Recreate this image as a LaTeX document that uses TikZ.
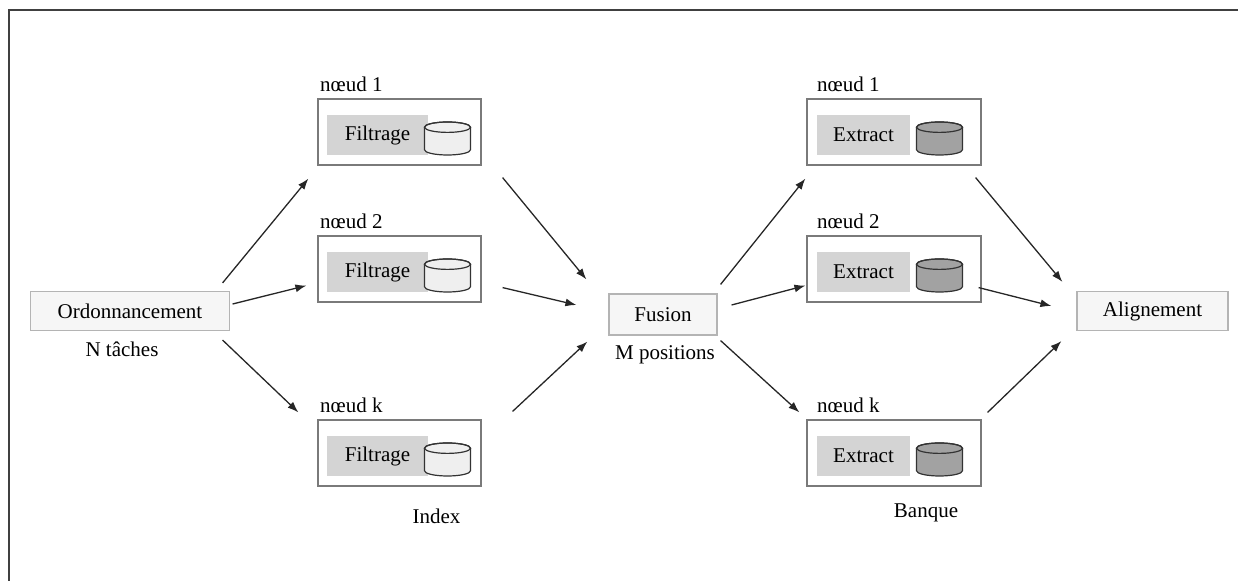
\documentclass[tikz,border=0pt]{standalone}
\usepackage{fontspec}
\setmainfont{Liberation Serif}
\usetikzlibrary{positioning}
\usetikzlibrary{calc}
\usetikzlibrary{arrows.meta}
\definecolor{cadre}{HTML}{B4B4B4}
\definecolor{fond}{HTML}{F6F6F6}
\definecolor{bloc}{HTML}{D4D4D4}
\definecolor{bord}{HTML}{7A7A7A}
\definecolor{disqueclair}{HTML}{EFEFEF}
\definecolor{disquefonce}{HTML}{A2A2A2}
\tikzset{every picture/.style={line width=0.7pt},
  etape/.style={draw=cadre, fill=fond, line width=0.6pt, minimum height=19.5pt, inner sep=0pt},
  noeud/.style={draw=bord, line width=0.6pt, minimum height=33pt, inner sep=0pt},
  tache/.style={fill=bloc, minimum width=50.5pt, minimum height=20pt, inner sep=0pt},
  pics/disque/.style={code={
    \filldraw [fill=#1, draw=black!80, line width=0.6pt] (-11.5pt,5.65pt) -- (-11.5pt,-5.65pt)
      arc [start angle=180, end angle=360, x radius=11.5pt, y radius=2.6pt] -- (11.5pt,5.65pt)
      arc [start angle=0, end angle=180, x radius=11.5pt, y radius=2.6pt] -- cycle;
    \draw [draw=black!80, line width=0.6pt] (0pt,5.65pt) ellipse [x radius=11.5pt, y radius=2.6pt];
  }},
  fleche/.style={-{Latex[length=5.5pt,width=4pt]}, line width=0.65pt, black!85}}

\begin{document}
\begin{tikzpicture}[x=0.5pt, y=-0.5pt, font=\fontsize{10.5}{12}\selectfont]
\useasboundingbox (0,0) rectangle (1238,581);
\draw [line width=1pt, black!75] (1238,10) -- (9,10) -- (9,581);

\node (ord) at (130,311) [etape, minimum width=99.5pt] {Ordonnancement};
\node (fus) at (663,314.5) [etape, minimum width=54pt, minimum height=20.5pt] {Fusion};
\node (ali) at (1152.5,311) [etape, minimum width=75.5pt] {Alignement};

\foreach \n/\y in {1/132, 2/269, k/453} {
  \node (f\n) at (399.5,\y) [noeud, minimum width=81.5pt] {};
  \node (tf\n) at ($(f\n)+(-22,3)$) [tache] {Filtrage};
  \pic (df\n) at ($(f\n)+(48,6.5)$) {disque=disqueclair};
  \node (lf\n) at ($(f\n.north west)+(2,-14)$) [anchor=west, inner sep=0pt] {nœud \n};
  \node (g\n) at (894,\y) [noeud, minimum width=87pt] {};
  \node (tg\n) at ($(g\n)+(-30.5,3)$) [tache, minimum width=46.5pt] {Extract};
  \pic (dg\n) at ($(g\n)+(45.5,6.5)$) {disque=disquefonce};
  \node (lg\n) at ($(g\n.north west)+(10,-14)$) [anchor=west, inner sep=0pt] {nœud \n};
}

\node (taches) [below=1.5pt of ord, xshift=-4pt] {N tâches};
\node (positions) [below=1.5pt of fus, xshift=1pt] {M positions};
\node (index) [below=7.5pt of fk, xshift=18.5pt] {Index};
\node (banque) [below=5pt of gk, xshift=16pt] {Banque};

\draw [fleche] ($(ord.north east)+(-7.5,-8)$) -- ($(f1.south west)+(-9,13)$);
\draw [fleche] ($(ord.east)+(2.5,-7)$) -- ($(f2.south west)+(-11,-17)$);
\draw [fleche] ($(ord.south east)+(-7.5,9)$) -- ($(fk.north west)+(-19,-7)$);
\draw [fleche] ($(f1.south east)+(21,12)$) -- ($(fus.north west)+(-22,-14)$);
\draw [fleche] ($(f2.south east)+(21,-15)$) -- ($(fus.west)+(-32,-9.5)$);
\draw [fleche] ($(fk.north east)+(31,-8)$) -- ($(fus.south west)+(-21,6)$);
\draw [fleche] ($(fus.north east)+(3,-9)$) -- ($(g1.south west)+(-1,13)$);
\draw [fleche] ($(fus.east)+(14,-9.5)$) -- ($(g2.south west)+(-1,-17)$);
\draw [fleche] ($(fus.south east)+(3,5)$) -- ($(gk.north west)+(-7,-7)$);
\draw [fleche] ($(g1.south east)+(-6,12)$) -- ($(ali.north west)+(-14,-9)$);
\draw [fleche] ($(g2.south east)+(-3,-15)$) -- ($(ali.west)+(-25,-5)$);
\draw [fleche] ($(gk.north east)+(6,-7)$) -- ($(ali.south west)+(-15,10)$);
\end{tikzpicture}
\end{document}
